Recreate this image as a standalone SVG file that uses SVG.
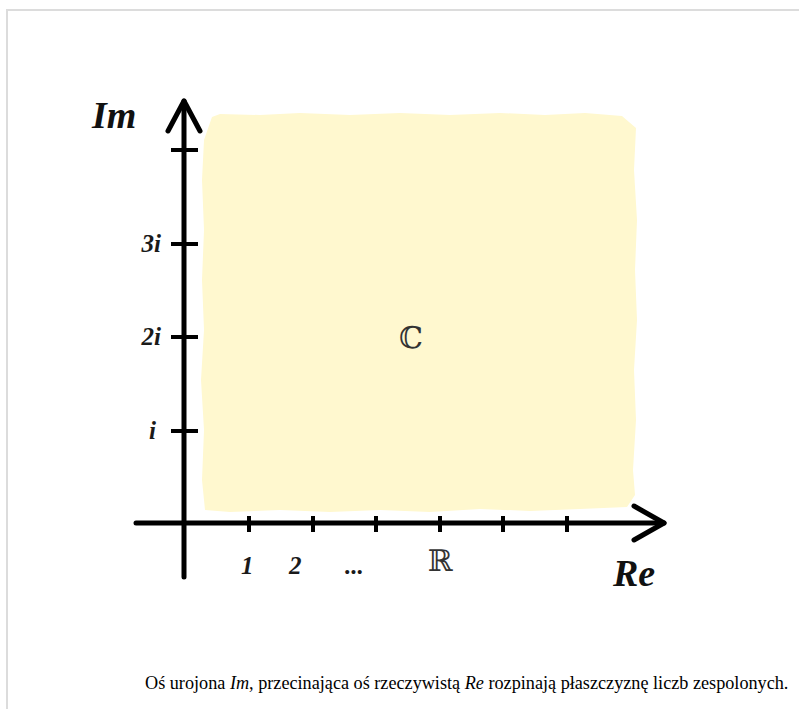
<svg xmlns="http://www.w3.org/2000/svg" width="799" height="709" viewBox="0 0 799 709">
<style>
.ax{stroke:#000;stroke-width:5;fill:none;stroke-linecap:round;stroke-linejoin:round}
.tk{stroke:#000;stroke-width:4;fill:none}
.lbl{font-family:"Liberation Serif",serif;font-style:italic;font-weight:bold;fill:#1a1a1a;font-size:25px}
.big{font-family:"Liberation Serif",serif;font-style:italic;font-weight:bold;fill:#111}
.ds{font-family:"DejaVu Serif",serif;fill:#333}
</style>
<rect width="799" height="709" fill="#fff"/>
<g id="frame" fill="#dcdcdc">
<rect x="6" y="9" width="793" height="2"/>
<rect x="6" y="9" width="2" height="700"/>
</g>
<g id="plane">
<path d="M212,117 L220,114 L260,115 L300,113 L350,115 L400,113 L450,115 L500,113 L545,115 L585,113 L622,116 L636,128 L634,170 L637,220 L635,270 L637,320 L634,370 L636,420 L633,470 L635,495 L627,507 L580,509 L530,511 L480,509 L430,512 L380,510 L330,512 L280,510 L230,512 L205,510 L202,480 L204,430 L201,380 L204,330 L202,280 L204,230 L202,180 L204,140 Z" fill="#fff8cf"/>
</g>
<g id="connectors">
<g id="im-axis">
<line class="ax" x1="184" y1="101" x2="184" y2="577"/>
<polyline class="ax" points="168,131 184,101 200,131"/>
<line class="tk" x1="171" y1="150" x2="198" y2="150"/>
<line class="tk" x1="171" y1="244" x2="198" y2="244"/>
<line class="tk" x1="171" y1="337" x2="198" y2="337"/>
<line class="tk" x1="171" y1="431" x2="198" y2="431"/>
</g>
<g id="re-axis">
<line class="ax" x1="136" y1="523" x2="664" y2="523"/>
<polyline class="ax" points="634,506 664,523 634,540"/>
<line class="tk" x1="249" y1="516" x2="249" y2="532"/>
<line class="tk" x1="313" y1="516" x2="313" y2="532"/>
<line class="tk" x1="376" y1="516" x2="376" y2="532"/>
<line class="tk" x1="440" y1="516" x2="440" y2="532"/>
<line class="tk" x1="503" y1="516" x2="503" y2="532"/>
<line class="tk" x1="567" y1="516" x2="567" y2="532"/>
</g>
</g>
<g id="labels">
<text class="big" x="92" y="128" font-size="38">Im</text>
<text class="big" x="613" y="586" font-size="38">Re</text>
<text class="lbl" x="161" y="252" text-anchor="end">3i</text>
<text class="lbl" x="161" y="345" text-anchor="end">2i</text>
<text class="lbl" x="156" y="439" text-anchor="end">i</text>
<text class="lbl" x="241" y="574">1</text>
<text class="lbl" x="289" y="574">2</text>
<text class="lbl" x="345" y="574">...</text>
<text class="ds" x="440" y="571" font-size="30" text-anchor="middle">ℝ</text>
<text class="ds" x="411" y="348" font-size="30" text-anchor="middle">ℂ</text>
</g>
<g id="caption">
<text x="145" y="689" font-family="'Liberation Serif', 'Times New Roman', serif" font-size="18.2" fill="#000">Oś urojona <tspan font-style="italic">Im</tspan>, przecinająca oś rzeczywistą <tspan font-style="italic">Re</tspan> rozpinają płaszczyznę liczb zespolonych.</text>
</g>
</svg>
